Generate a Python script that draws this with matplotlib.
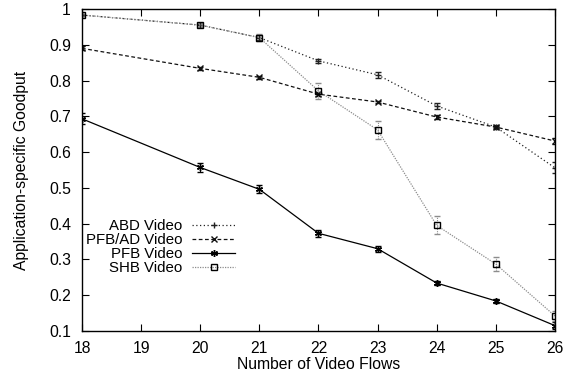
import matplotlib
matplotlib.use("Agg")
import matplotlib.pyplot as plt

plt.rcParams['font.family'] = ['Liberation Sans', 'DejaVu Sans']

flows = [18, 20, 21, 22, 23, 24, 25, 26]
x_ticks = [18, 19, 20, 21, 22, 23, 24, 25, 26]
y_ticks = [0.1, 0.2, 0.3, 0.4, 0.5, 0.6, 0.7, 0.8, 0.9, 1.0]
y_tick_labels = ["0.1", "0.2", "0.3", "0.4", "0.5", "0.6", "0.7", "0.8", "0.9", "1"]

abd = [0.983, 0.955, 0.920, 0.855, 0.816, 0.729, 0.670, 0.556]
abd_err = [0.004, 0.005, 0.006, 0.005, 0.008, 0.008, 0.005, 0.015]

pfb_ad = [0.890, 0.834, 0.809, 0.762, 0.740, 0.698, 0.670, 0.631]
pfb_ad_err = [0.006, 0.004, 0.004, 0.005, 0.004, 0.005, 0.004, 0.008]

pfb = [0.693, 0.557, 0.496, 0.373, 0.330, 0.234, 0.184, 0.115]
pfb_err = [0.015, 0.013, 0.011, 0.010, 0.008, 0.006, 0.005, 0.010]

shb = [0.983, 0.955, 0.920, 0.771, 0.662, 0.395, 0.287, 0.142]
shb_err = [0.004, 0.006, 0.010, 0.022, 0.025, 0.025, 0.020, 0.015]

FS = 11.3
LEG_FS = 10.8

fig = plt.figure(figsize=(5.68, 3.74), dpi=100)
ax = fig.add_axes([0.1444, 0.115, 0.8326, 0.861])

series = [
    ("ABD Video", abd, abd_err, (0, (1, 2)), "+", "#222222", 5, "none"),
    ("PFB/AD Video", pfb_ad, pfb_ad_err, (0, (3, 2)), "x", "#111111", 4, "none"),
    ("PFB Video", pfb, pfb_err, "-", (6, 2, 0), "#000000", 5, "#000000"),
    ("SHB Video", shb, shb_err, (0, (1, 1)), "s", "#8c8c8c", 5, "none"),
]

for label, vals, errs, ls, mk, col, ms, mfc in series:
    mec = "#000000" if mk == "s" else col
    cont = ax.errorbar(flows, vals, yerr=errs, color=col, linestyle=ls,
                       linewidth=0.9, marker=mk, markersize=ms,
                       markerfacecolor=mfc, markeredgecolor=mec,
                       markeredgewidth=1.0, elinewidth=0.8, capsize=2.5,
                       capthick=0.8, ecolor=col, label=label)
    for bl in cont[2]:
        bl.set_linestyle(ls)

ax.set_xlim(18, 26)
ax.set_ylim(0.1, 1.0)
ax.set_xticks(x_ticks)
ax.set_xticklabels([str(v) for v in x_ticks])
ax.set_yticks(y_ticks)
ax.set_yticklabels(y_tick_labels)
ax.tick_params(direction="in", length=5, width=0.8, top=True, right=True,
               labelsize=FS)
ax.tick_params(axis="y", pad=8)
ax.tick_params(axis="x", pad=7)
for sp in ax.spines.values():
    sp.set_linewidth(1.0)

ax.set_xlabel("Number of Video Flows", fontsize=FS, labelpad=1)
ax.set_ylabel("Application-specific Goodput", fontsize=FS, labelpad=14)

handles, labels = ax.get_legend_handles_labels()
handles = [h[0] for h in handles]
ax.legend(handles, labels, loc="center right", bbox_to_anchor=(0.340, 0.261),
          frameon=False, markerfirst=False, fontsize=LEG_FS, handlelength=2.9,
          handletextpad=0.65, labelspacing=0.0, borderpad=0)
for t in ax.get_legend().get_texts():
    t.set_ha("right")

fig.savefig("out.png", dpi=100)
